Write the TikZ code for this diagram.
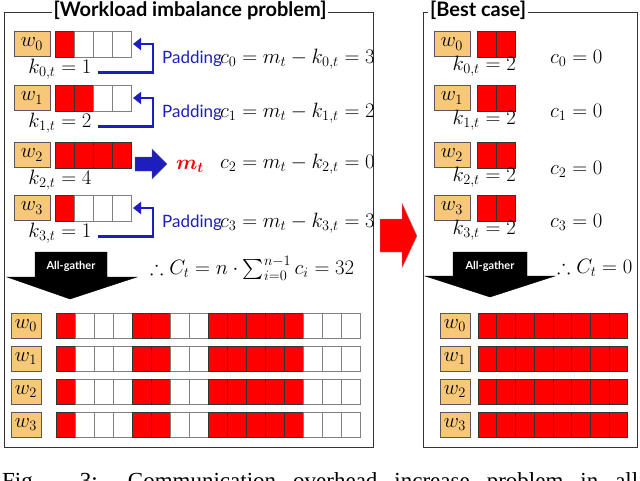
\documentclass[tikz,border=0pt]{standalone}
\usepackage{fontspec}
\setmainfont{Liberation Serif}
\newfontfamily\gill{Lato}
\usepackage{amsmath,amssymb}
\usetikzlibrary{arrows.meta}
\definecolor{wfill}{RGB}{246,200,120}
\definecolor{pblue}{RGB}{30,30,190}
\definecolor{cred}{RGB}{255,0,0}
\tikzset{
 wbox/.style={draw=gray!70!black,fill=wfill,minimum width=#1,minimum height=25pt,inner sep=0pt,font=\fontsize{20}{22}\selectfont},
 wbox/.default=36pt,
 rcell/.style={draw=black!80,fill=cred,line width=0.6pt},
 ecell/.style={draw=gray,fill=white,line width=0.6pt},
 frame/.style={draw=black!80,line width=0.9pt},
 pad/.style={draw=pblue,line width=2.6pt,-{Triangle[length=8pt,width=12pt]}},
 mt/.style={font=\fontsize{20}{22}\selectfont,inner sep=0pt},
 ptxt/.style={font=\gill\fontsize{17}{19}\selectfont,text=pblue,inner sep=0pt},
 ttl/.style={font=\gill\bfseries\fontsize{20}{22}\selectfont,fill=white,inner sep=2pt},
}
\newcommand{\cells}[5]{% x0, y0, width, pattern macro, height
 \foreach \v [count=\i from 0] in #4{
  \ifnum\v=1 \def\st{rcell}\else\def\st{ecell}\fi
  \path[\st] ({#1+\i*#3},#2) rectangle ++(#3,#5);
 }}
\begin{document}
\begin{tikzpicture}[x=1pt,y=-1pt]
\useasboundingbox (0,0) rectangle (640,480);
\clip (0,0) rectangle (640,480);
% frames
\draw[frame] (4,12) rectangle (373,447);
\draw[frame] (423,12) rectangle (637,447);
\node[ttl] (t1) at (190,10) {[Workload imbalance problem]};
\node[ttl] (t2) at (478,10) {[Best case]};
% left top rows
\foreach \r/\y/\k/\p in {0/31/1/{1,0,0,0},1/85/2/{1,1,0,0},2/142/4/{1,1,1,1},3/195/1/{1,0,0,0}}{
 \node[wbox] (w\r) at (32,\y+13) {$w_{\r}$};
 \cells{55}{\y}{19}{\p}{26}
 \coordinate (ce\r) at (133,\y+13);
 \node[mt,anchor=north] (k\r) at (60,\y+28) {$k_{\r,t}=\k$};
}
\foreach \r/\v in {0/3,1/2,3/3}{
 \draw[pad] (k\r.east) ++(6,3) coordinate (ps\r) -- (153,0 |- ps\r) -- (153,0 |- ce\r) -- (ce\r);
 \node[ptxt,anchor=west] (pd\r) at (162,0 |- k\r.north) {Padding};
 \node[mt,anchor=west] (c\r) at (220,0 |- pd\r) {$c_{\r}=m_t-k_{\r,t}=\v$};
}
\node[mt,anchor=west] (c2) at (220,164) {$c_{2}=m_t-k_{2,t}=0$};
\node[mt,text=cred] (m) at (190,166) {$\boldsymbol{m_t}$};
\draw[fill=pblue,draw=black!60] (135,157) -- (152,157) -- (152,149) -- (167,164) -- (152,179) -- (152,171) -- (135,171) -- cycle;
% all-gather left
\draw[fill=black] (35,252) -- (107,252) -- (107,277) -- (137,277) -- (70,299) -- (7,277) -- (35,277) -- cycle;
\node[font=\gill\bfseries\fontsize{11}{12}\selectfont,text=white] (ag1) at (71,266) {All-gather};
\node[mt,anchor=west] (Ct) at (150,268) {$\therefore C_t=n\cdot\sum_{i=0}^{n-1}c_i=32$};
% bottom rows left
\foreach \r/\y in {0/313,1/346,2/379,3/412}{
 \node[wbox=30pt] (bw\r) at (26,\y+12.5) {$w_{\r}$};
 \cells{56}{\y}{19}{{1,0,0,0,1,1,0,0,1,1,1,1,1,0,0,0}}{25}
}
% red arrow
\draw[fill=cred,draw=black!40] (380,219) -- (402,219) -- (402,203) -- (417,236) -- (402,268) -- (402,252) -- (380,252) -- cycle;
% right rows
\foreach \r/\y in {0/31,1/85,2/142,3/195}{
 \node[wbox] (rw\r) at (452,\y+13) {$w_{\r}$};
 \cells{477}{\y}{19}{{1,1}}{26}
 \node[mt,anchor=north east] (rk\r) at (516,\y+25) {$k_{\r,t}=2$};
 \node[mt,anchor=west] (rc\r) at (550,\y+27) {$c_{\r}=0$};
}
\draw[fill=black] (453,252) -- (527,252) -- (527,276) -- (555,276) -- (490,297) -- (425,276) -- (453,276) -- cycle;
\node[font=\gill\bfseries\fontsize{11}{12}\selectfont,text=white] (ag2) at (490,266) {All-gather};
\node[mt,anchor=west] (rC) at (557,268) {$\therefore C_t=0$};
\foreach \r/\y in {0/313,1/346,2/379,3/412}{
 \node[wbox=30pt] (rbw\r) at (455,\y+12.5) {$w_{\r}$};
 \cells{478}{\y}{18.7}{{1,1,1,1,1,1,1,1}}{25}
}
% caption (cut off)
\node[anchor=base west,inner sep=0pt,font=\fontsize{23}{24}\selectfont] (cap) at (2,488) {\makebox[636pt][s]{Fig. 3: Communication overhead increase problem in all}};
\end{tikzpicture}
\end{document}
